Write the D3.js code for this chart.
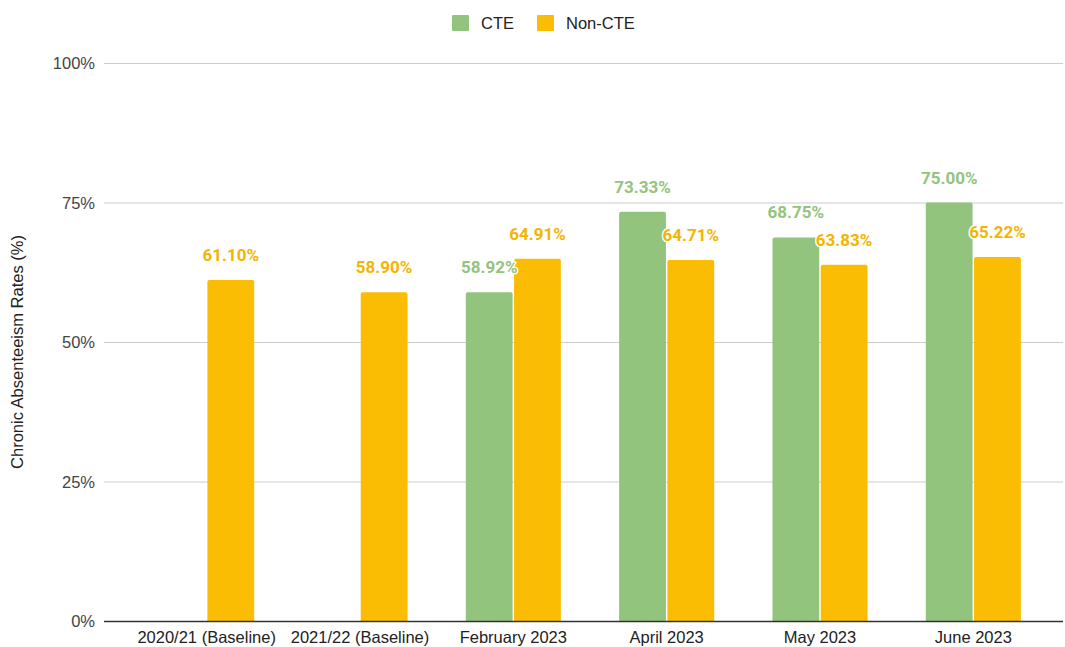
<!DOCTYPE html>
<html>
<head>
<meta charset="utf-8">
<script src="https://cdn.jsdelivr.net/npm/d3@7"></script>
<style>
  body { margin: 0; background: #fff; }
  text { font-family: Arial, "Liberation Sans", sans-serif; }
  .val { font-family: Roboto, Arial, sans-serif; font-weight: bold; font-size: 17px; }
</style>
</head>
<body>
<div class="chart"></div>
<script>
// data
const categories = ["2020/21 (Baseline)", "2021/22 (Baseline)", "February 2023", "April 2023", "May 2023", "June 2023"];
const cte = [null, null, 58.92, 73.33, 68.75, 75.00];
const nonCte = [61.10, 58.90, 64.91, 64.71, 63.83, 65.22];
const yTicks = [0, 25, 50, 75, 100];
const seriesNames = ["CTE", "Non-CTE"];
const colors = {"CTE": "#93c47d", "Non-CTE": "#fbbc04"};
const labelColors = {"CTE": "#93c47d", "Non-CTE": "#f4b400"};

const outWidth = 1065, outHeight = 647;
const plotLeft = 104, plotRight = 1063, plotTop = 63, plotBottom = 621;

const svg = d3.select(".chart").append("svg")
	.attr("width", outWidth)
	.attr("height", outHeight);

const y = d3.scaleLinear().domain([0, 100]).range([plotBottom, plotTop]);
const x = d3.scaleBand().domain(categories).range([130, 1050]).paddingInner(0.38).paddingOuter(0.19);
const x1 = d3.scaleBand().domain(seriesNames).range([0, x.bandwidth()]).paddingInner(0.03);

// gridlines
svg.append("g")
	.selectAll("line")
	.data(yTicks.filter(d => d > 0))
	.enter()
	.append("line")
	.attr("x1", plotLeft)
	.attr("x2", plotRight)
	.attr("y1", d => y(d) + 0.5)
	.attr("y2", d => y(d) + 0.5)
	.attr("stroke", "#cccccc")
	.attr("stroke-width", 1);

// y tick labels
svg.append("g")
	.selectAll("text")
	.data(yTicks)
	.enter()
	.append("text")
	.attr("x", 95)
	.attr("y", d => y(d) + 6)
	.attr("text-anchor", "end")
	.attr("font-size", 16.5)
	.attr("fill", "#444")
	.text(d => d + "%");

// rows for bars
const rows = [];
categories.forEach((c, i) => {
	if (cte[i] != null) rows.push({cat: c, s: "CTE", v: cte[i]});
	if (nonCte[i] != null) rows.push({cat: c, s: "Non-CTE", v: nonCte[i]});
});

function barPath(d) {
	const x0 = x(d.cat) + x1(d.s), w = x1.bandwidth();
	const top = y(d.v), bot = y(0), r = 2;
	return `M${x0},${bot}V${top + r}Q${x0},${top} ${x0 + r},${top}H${x0 + w - r}Q${x0 + w},${top} ${x0 + w},${top + r}V${bot}Z`;
}

svg.append("g")
	.selectAll("path")
	.data(rows)
	.enter()
	.append("path")
	.attr("d", barPath)
	.attr("fill", d => colors[d.s]);

// baseline
svg.append("line")
	.attr("x1", plotLeft)
	.attr("x2", plotRight)
	.attr("y1", plotBottom + 0.5)
	.attr("y2", plotBottom + 0.5)
	.attr("stroke", "#333")
	.attr("stroke-width", 1.3);

// value labels with white halo
svg.append("g")
	.selectAll("text")
	.data(rows)
	.enter()
	.append("text")
	.attr("class", "val")
	.attr("x", d => x(d.cat) + x1(d.s) + x1.bandwidth() / 2)
	.attr("y", d => y(d.v) - 19)
	.attr("text-anchor", "middle")
	.attr("fill", d => labelColors[d.s])
	.attr("stroke", "#fff")
	.attr("stroke-width", 3)
	.attr("paint-order", "stroke")
	.text(d => d.v.toFixed(2) + "%");

// x labels
svg.append("g")
	.selectAll("text")
	.data(categories)
	.enter()
	.append("text")
	.attr("x", d => x(d) + x.bandwidth() / 2)
	.attr("y", 643)
	.attr("text-anchor", "middle")
	.attr("font-size", 16.5)
	.attr("fill", "#222")
	.text(d => d);

// y title
svg.append("text")
	.attr("transform", `translate(23, ${(plotTop + plotBottom) / 2 + 10}) rotate(-90)`)
	.attr("text-anchor", "middle")
	.attr("font-size", 16.5)
	.attr("fill", "#222")
	.text("Chronic Absenteeism Rates (%)");

// legend
const legendX = [452, 537];
const lg = svg.append("g");
lg.selectAll("rect")
	.data(seriesNames)
	.enter()
	.append("rect")
	.attr("x", (d, i) => legendX[i])
	.attr("y", 15)
	.attr("width", 17)
	.attr("height", 16)
	.attr("rx", 1)
	.attr("fill", d => colors[d]);
lg.selectAll("text")
	.data(seriesNames)
	.enter()
	.append("text")
	.attr("x", (d, i) => legendX[i] + 29)
	.attr("y", 29)
	.attr("font-size", 16.5)
	.attr("fill", "#222")
	.text(d => d);
</script>
</body>
</html>
